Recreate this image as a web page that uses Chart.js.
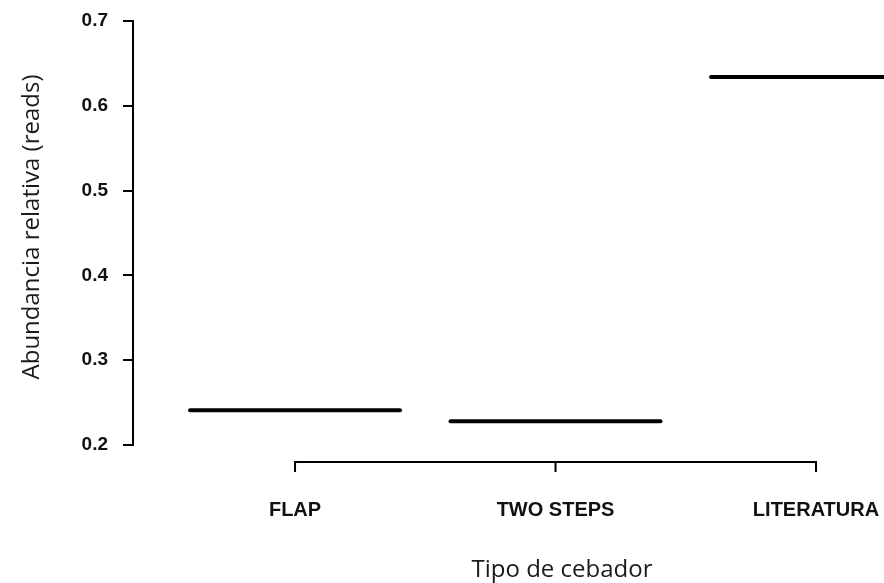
<!DOCTYPE html>
<html>
<head>
<meta charset="utf-8">
<script src="https://cdn.jsdelivr.net/npm/chart.js@4.4.1/dist/chart.umd.min.js"></script>
<style>
  html, body { margin: 0; padding: 0; background: #fff; }
  canvas { display: block; }
</style>
</head>
<body>
<canvas id="medianChart" width="884" height="583"></canvas>
<script>
const categories = ['FLAP', 'TWO STEPS', 'LITERATURA'];
const medians = [0.241, 0.228, 0.634];
const yTicks = [0.2, 0.3, 0.4, 0.5, 0.6, 0.7];

const xTitle = 'Tipo de cebador';
const yTitle = 'Abundancia relativa (reads)';

// half width of each median segment, in category units
const halfWidth = 0.403;

const datasets = categories.map((cat, i) => ({
  label: cat,
  data: [
    { x: i + 1 - halfWidth, y: medians[i] },
    { x: i + 1 + halfWidth, y: medians[i] },
  ],
  borderColor: '#000',
  borderWidth: 4,
  borderCapStyle: 'round',
  pointRadius: 0,
  fill: false,
}));

// R style axes: x axis only from first to last category, offset below plot
const rAxes = {
  id: 'rAxes',
  afterDraw(chart) {
    const { ctx, chartArea, scales } = chart;
    const x = scales.x;
    const yLine = chartArea.bottom + 17;
    ctx.save();
    ctx.strokeStyle = '#000';
    ctx.lineWidth = 2;
    ctx.beginPath();
    ctx.moveTo(x.getPixelForValue(1), yLine);
    ctx.lineTo(x.getPixelForValue(categories.length), yLine);
    categories.forEach((c, i) => {
      const px = x.getPixelForValue(i + 1);
      ctx.moveTo(px, yLine - 1);
      ctx.lineTo(px, yLine + 10);
    });
    ctx.stroke();

    ctx.fillStyle = '#1a1a1a';
    ctx.font = '24px "Open Sans"';
    ctx.textAlign = 'center';
    ctx.textBaseline = 'middle';
    ctx.fillText(xTitle, 562, 570);

    ctx.translate(32, 227);
    ctx.rotate(-Math.PI / 2);
    ctx.fillText(yTitle, 0, 0);
    ctx.restore();
  }
};

new Chart(document.getElementById('medianChart'), {
  type: 'line',
  data: { datasets },
  options: {
    responsive: false,
    animation: false,
    layout: { padding: { top: 21, right: 0, left: 0, bottom: 0 } },
    plugins: {
      legend: { display: false },
      tooltip: { enabled: false },
    },
    scales: {
      x: {
        type: 'linear',
        min: 0.378,
        max: 3.261,
        afterFit: (scale) => {
          scale.height = 138;
          scale.paddingLeft = 0;
          scale.paddingRight = 0;
        },
        afterBuildTicks: (scale) => {
          scale.ticks = categories.map((c, i) => ({ value: i + 1 }));
        },
        grid: { display: false },
        border: { display: false },
        ticks: {
          padding: 45,
          color: '#111',
          font: { family: '"Liberation Sans", Arial', size: 20, weight: 'bold' },
          maxRotation: 0,
          callback: (v) => categories[v - 1],
        },
      },
      y: {
        min: yTicks[0],
        max: yTicks[yTicks.length - 1],
        afterFit: (scale) => {
          scale.width = 133;
          scale.paddingTop = 0;
          scale.paddingBottom = 0;
        },
        afterBuildTicks: (scale) => {
          scale.ticks = yTicks.map(v => ({ value: v }));
        },
        grid: {
          drawOnChartArea: false,
          drawTicks: true,
          tickLength: 10,
          color: '#000',
          lineWidth: 2,
        },
        border: { display: true, color: '#000', width: 2 },
        ticks: {
          padding: 15,
          color: '#111',
          font: { family: '"Liberation Sans", Arial', size: 19, weight: 'bold' },
          callback: (v) => v.toFixed(1),
        },
      },
    },
  },
  plugins: [rAxes],
});
</script>
</body>
</html>
